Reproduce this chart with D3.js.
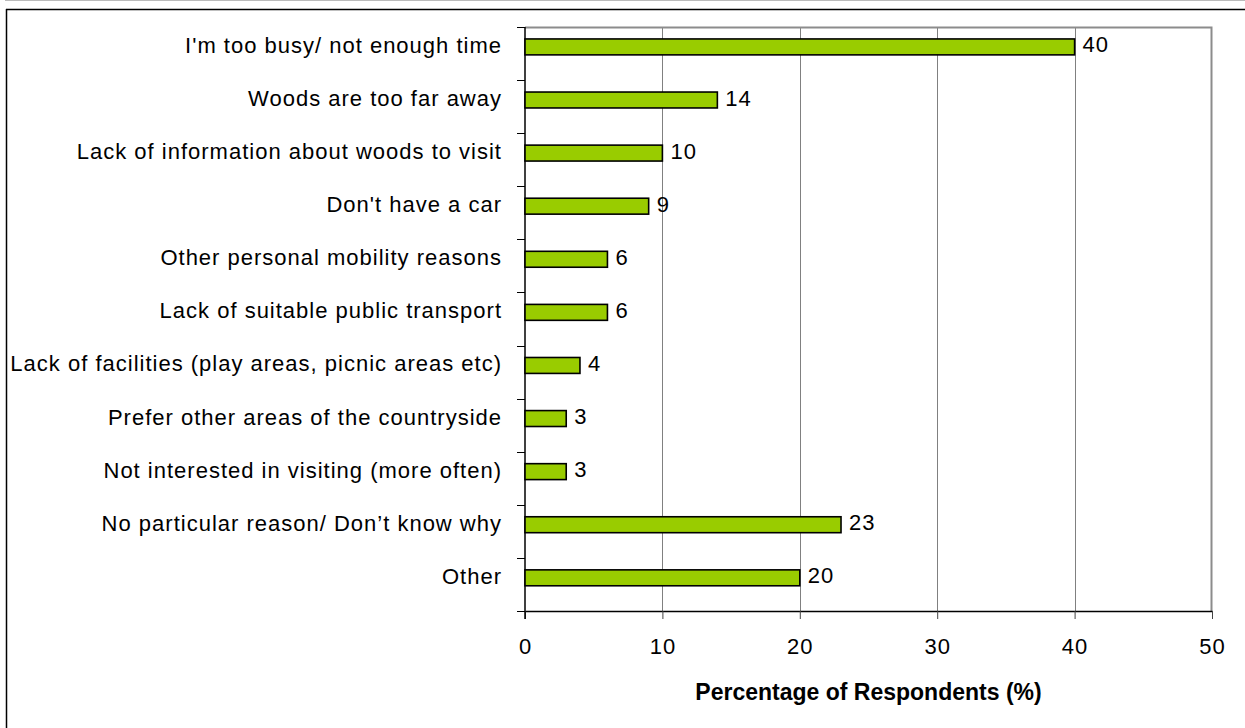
<!DOCTYPE html>
<html>
<head>
<meta charset="utf-8">
<script src="https://cdn.jsdelivr.net/npm/d3@7"></script>
<style>
  html, body { margin: 0; padding: 0; background: #fff; }
  svg { display: block; font-family: "Liberation Sans", Arial, sans-serif; }
</style>
</head>
<body>
<svg id="chart" width="1245" height="728"></svg>
<script>
// data
const categories = [
  "I'm too busy/ not enough time",
  "Woods are too far away",
  "Lack of information about woods to visit",
  "Don't have a car",
  "Other personal mobility reasons",
  "Lack of suitable public transport",
  "Lack of facilities (play areas, picnic areas etc)",
  "Prefer other areas of the countryside",
  "Not interested in visiting (more often)",
  "No particular reason/ Don\u2019t know why",
  "Other"
];
const values = [40, 14, 10, 9, 6, 6, 4, 3, 3, 23, 20];
const xTicks = [0, 10, 20, 30, 40, 50];
const xTitle = "Percentage of Respondents (%)";

const data = categories.map((c, i) => ({ cat: c, val: values[i] }));

const W = 1245, H = 728;
const m = { top: 27, right: 33, bottom: 117, left: 525 };

const svg = d3.select("#chart");

// outer chart border (cropped on right/bottom)
svg.append("line").attr("x1", 5).attr("x2", W).attr("y1", 0.5).attr("y2", 0.5)
   .attr("stroke", "#bbb").attr("stroke-width", 1);
svg.append("line").attr("x1", 6).attr("x2", W).attr("y1", 9.5).attr("y2", 9.5)
   .attr("stroke", "#000").attr("stroke-width", 1.5);
svg.append("line").attr("x1", 6.5).attr("x2", 6.5).attr("y1", 9).attr("y2", H)
   .attr("stroke", "#000").attr("stroke-width", 1.5);

const x = d3.scaleLinear()
  .domain([0, 50])
  .range([m.left, W - m.right]);

const y = d3.scaleBand()
  .domain(categories)
  .range([m.top, H - m.bottom])
  .paddingInner(0)
  .paddingOuter(0);

const x0 = x.range()[0], x1 = x.range()[1];
const y0 = y.range()[0], y1 = y.range()[1];

// vertical gridlines
svg.append("g")
  .selectAll("line")
  .data(xTicks.slice(1, -1))
  .join("line")
    .attr("x1", d => Math.round(x(d)) + 0.5)
    .attr("x2", d => Math.round(x(d)) + 0.5)
    .attr("y1", y0)
    .attr("y2", y1)
    .attr("stroke", "#808080")
    .attr("stroke-width", 1);

// plot area frame (top + right, grey)
svg.append("path")
  .attr("d", `M${x0},${y0 + 0.5}H${x1 - 0.5}V${y1}`)
  .attr("fill", "none")
  .attr("stroke", "#8c8c8c")
  .attr("stroke-width", 2);

// bottom axis
const xAxis = svg.append("g")
  .attr("transform", `translate(0,${y1})`)
  .call(d3.axisBottom(x).tickValues(xTicks).tickSize(8).tickPadding(19).tickSizeOuter(0));
xAxis.select(".domain").attr("stroke", "#000").attr("stroke-width", 1.5);
xAxis.selectAll(".tick line").attr("stroke", "#444");
xAxis.selectAll(".tick text")
  .attr("fill", "#000")
  .style("font-size", "22px")
  .style("letter-spacing", "1px")
  .style("font-family", "'Liberation Sans', Arial, sans-serif");

// left axis: ticks between categories
const bounds = categories.map(c => y(c)).concat([y1]);
svg.append("g")
  .selectAll("line")
  .data(bounds)
  .join("line")
    .attr("x1", x0 - 8)
    .attr("x2", x0)
    .attr("y1", d => Math.round(d) + 0.5)
    .attr("y2", d => Math.round(d) + 0.5)
    .attr("stroke", "#000")
    .attr("stroke-width", 1);
svg.append("line")
  .attr("x1", x0).attr("x2", x0)
  .attr("y1", y0).attr("y2", y1 + 8)
  .attr("stroke", "#000").attr("stroke-width", 1.5);

// bars
const bh = y.bandwidth() * 0.30;
const boff = y.bandwidth() * 0.225;

svg.append("g")
  .selectAll("rect")
  .data(data)
  .join("rect")
    .attr("x", x(0))
    .attr("y", d => y(d.cat) + boff)
    .attr("width", d => x(d.val) - x(0))
    .attr("height", bh)
    .attr("fill", "#99cc00")
    .attr("stroke", "#000")
    .attr("stroke-width", 1.6);

// value labels
svg.append("g")
  .selectAll("text")
  .data(data)
  .join("text")
    .attr("x", d => x(d.val) + 8)
    .attr("y", d => y(d.cat) + boff + bh / 2 + 5.5)
    .attr("font-size", 22)
    .attr("letter-spacing", 1)
    .attr("fill", "#000")
    .text(d => d.val);

// category labels
svg.append("g")
  .selectAll("text")
  .data(data)
  .join("text")
    .attr("x", 502)
    .attr("y", d => y(d.cat) + boff + bh / 2 + 6)
    .attr("text-anchor", "end")
    .attr("font-size", 22)
    .attr("letter-spacing", 1)
    .attr("fill", "#000")
    .text(d => d.cat);

// axis title
svg.append("text")
  .attr("x", (x0 + x1) / 2)
  .attr("y", 700)
  .attr("text-anchor", "middle")
  .attr("font-size", 23)
  .attr("font-weight", "bold")
  .attr("fill", "#000")
  .text(xTitle);
</script>
</body>
</html>
